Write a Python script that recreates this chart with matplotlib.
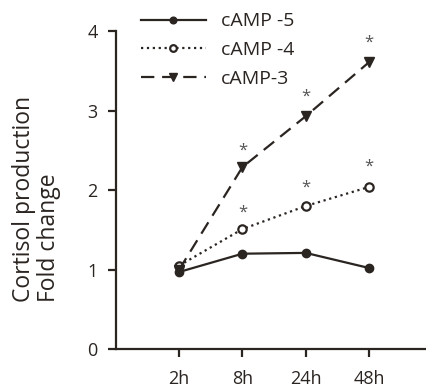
import numpy as np
import matplotlib.pyplot as plt

times = ["2h", "8h", "24h", "48h"]
camp5 = [0.97, 1.20, 1.21, 1.02]
camp4 = [1.05, 1.51, 1.80, 2.04]
camp3 = [1.00, 2.29, 2.93, 3.61]
# significance stars: (time index, y position)
star_x = [1, 1, 2, 2, 3, 3]
star_y = [2.50, 1.72, 3.18, 2.03, 3.85, 2.29]

col = "#2b2522"
plt.rcParams["font.family"] = ["Open Sans", "DejaVu Sans"]

fig = plt.figure(figsize=(4.26, 3.9), dpi=100)
ax = fig.add_axes([0.272, 0.105, 0.728, 0.815])

x = np.arange(1, len(times) + 1)
l5, = ax.plot(x, camp5, "-", color=col, lw=1.6, marker="o", ms=6,
              mfc=col, mec=col, label="cAMP -5")
l4, = ax.plot(x, camp4, ":", color=col, lw=1.6, marker="o", ms=6,
              mfc="white", mec=col, mew=1.6, label="cAMP -4")
l3, = ax.plot(x, camp3, color=col, lw=1.6, marker="v", ms=7,
              mfc=col, mec=col, dashes=(6, 3.5), label="cAMP-3")

for sx, sy in zip(star_x, star_y):
    ax.text(x[sx], sy, "*", ha="center", va="center", fontsize=12, color="#555")

ax.set_xlim(0, 4.9)
ax.set_ylim(0, 4)
ax.set_yticks([0, 1, 2, 3, 4])
ax.set_xticks(x)
ax.set_xticklabels(times)
ax.spines["top"].set_visible(False)
ax.spines["right"].set_visible(False)
for s in ["left", "bottom"]:
    ax.spines[s].set_linewidth(1.6)
    ax.spines[s].set_color(col)
ax.tick_params(width=1.6, length=6, color=col, labelcolor=col, labelsize=13)
ax.tick_params(axis="y", pad=7)
ax.tick_params(axis="x", pad=9)

fig.text(0.0857, 0.49, "Cortisol production\nFold change", rotation=90,
         ha="center", va="center", multialignment="left", fontsize=16.5,
         color=col, linespacing=1.1)

fig.legend(handles=[l5, l4, l3], loc="upper left", bbox_to_anchor=(0.289, 1.013),
           frameon=False, fontsize=14, handlelength=3.35, handletextpad=0.8,
           labelspacing=0.55, markerscale=0.8, labelcolor=col)

fig.savefig("out.png", dpi=100)
